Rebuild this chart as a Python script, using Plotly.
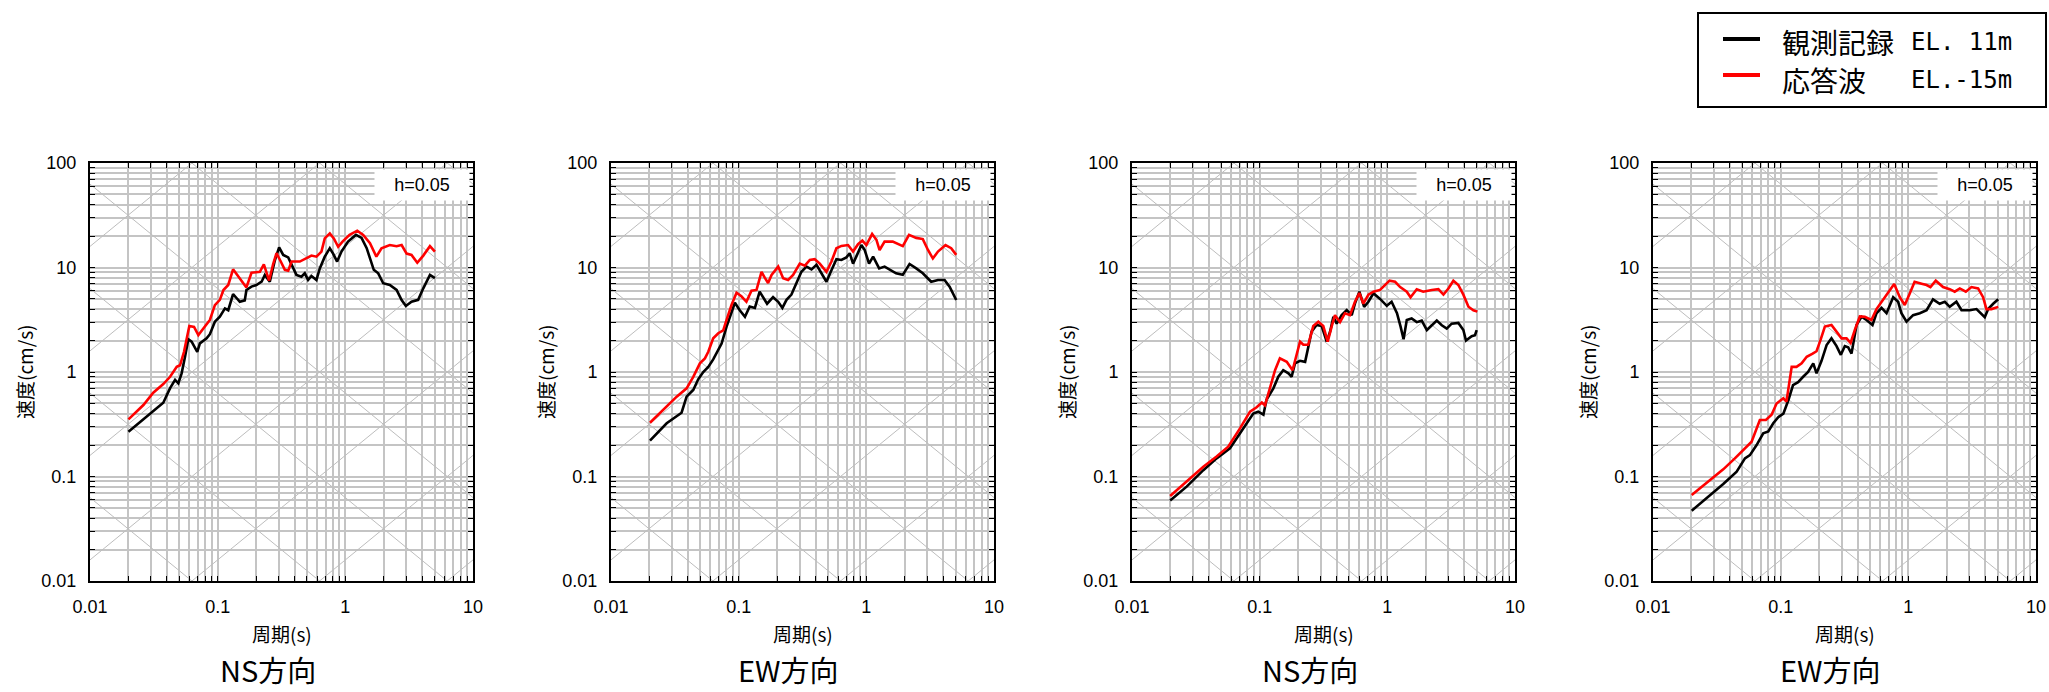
import math
import plotly.graph_objects as go

W, H = 2049, 692

# ---------------- data ----------------
panel_titles = ["NS方向", "EW方向", "NS方向", "EW方向"]
legend_names = ["観測記録", "応答波"]
legend_levels = ["EL. 11m", "EL.-15m"]
damping_label = "h=0.05"
x_title = "周期(s)"
y_title = "速度(cm/s)"

x_decades = [0.01, 0.1, 1, 10]
x_decade_labels = ["0.01", "0.1", "1", "10"]
y_decades = [0.01, 0.1, 1, 10, 100]
y_decade_labels = ["0.01", "0.1", "1", "10", "100"]

# tripartite guide levels
disp_levels_cm = [1e-4, 1e-3, 1e-2, 0.1, 1, 10, 100]
acc_levels_gal = [0.01, 0.1, 1, 10, 100, 1000, 10000]

p1_obs_T = [0.02, 0.0375, 0.0424, 0.0464, 0.0492, 0.0522, 0.0555, 0.0589, 0.0625, 0.0692, 0.0726, 0.0819, 0.0869, 0.0951, 0.104, 0.114, 0.121, 0.132, 0.141, 0.149, 0.163, 0.168, 0.184, 0.201, 0.221, 0.234, 0.256, 0.281, 0.303, 0.326, 0.357, 0.379, 0.414, 0.453, 0.481, 0.511, 0.543, 0.594, 0.631, 0.690, 0.756, 0.802, 0.862, 0.933, 1.05, 1.21, 1.34, 1.47, 1.56, 1.67, 1.81, 1.98, 2.23, 2.52, 2.76, 2.98, 3.30, 3.72, 4.08, 4.60, 5.03]
p1_obs_V = [0.268, 0.508, 0.70, 0.84, 0.78, 0.97, 1.40, 2.06, 1.95, 1.56, 1.88, 2.10, 2.3, 3.03, 3.38, 4.06, 3.9, 5.57, 5.08, 4.71, 4.85, 6.09, 6.56, 6.8, 7.31, 8.47, 7.3, 11.8, 15.6, 13.2, 12.5, 10.6, 8.5, 8.17, 8.8, 7.6, 8.3, 7.6, 9.8, 12.7, 15.3, 13.6, 11.4, 14.2, 17.7, 20.5, 19.2, 15.3, 12.2, 9.5, 8.8, 7.07, 6.8, 6.1, 4.89, 4.28, 4.7, 4.9, 6.32, 8.5, 7.9]
p1_res_T = [0.02, 0.0262, 0.0313, 0.0375, 0.0424, 0.0478, 0.0507, 0.0545, 0.060, 0.0653, 0.0706, 0.0796, 0.0869, 0.0951, 0.104, 0.111, 0.121, 0.132, 0.142, 0.154, 0.168, 0.184, 0.214, 0.230, 0.253, 0.272, 0.289, 0.310, 0.336, 0.357, 0.379, 0.440, 0.496, 0.543, 0.594, 0.650, 0.690, 0.756, 0.812, 0.879, 0.951, 1.08, 1.24, 1.38, 1.56, 1.75, 1.92, 2.23, 2.52, 2.76, 3.02, 3.30, 3.66, 4.08, 4.60, 5.03]
p1_res_V = [0.352, 0.483, 0.634, 0.767, 0.90, 1.12, 1.16, 1.56, 2.75, 2.7, 2.26, 2.75, 3.15, 4.37, 4.9, 6.09, 6.8, 9.6, 8.5, 7.6, 6.45, 8.9, 9.1, 10.7, 7.5, 10.8, 13.7, 11.6, 9.5, 9.3, 11.4, 11.4, 12.2, 13.0, 12.7, 14.2, 19.0, 21.2, 19.0, 15.8, 17.7, 20.5, 22.5, 20.5, 17.1, 12.7, 15.3, 16.4, 16.0, 16.4, 13.6, 13.2, 11.1, 13.0, 16.0, 14.2]

p2_obs_T = [0.0202, 0.0273, 0.0357, 0.0391, 0.0441, 0.0482, 0.0528, 0.0578, 0.0632, 0.0692, 0.0735, 0.0804, 0.0879, 0.0934, 0.102, 0.112, 0.122, 0.134, 0.146, 0.155, 0.167, 0.186, 0.204, 0.220, 0.237, 0.259, 0.284, 0.310, 0.340, 0.372, 0.407, 0.445, 0.487, 0.533, 0.583, 0.638, 0.698, 0.741, 0.787, 0.846, 0.915, 0.971, 1.05, 1.13, 1.26, 1.39, 1.52, 1.71, 1.93, 2.18, 2.46, 2.77, 3.22, 3.64, 4.10, 4.49, 5.06]
p2_obs_V = [0.220, 0.323, 0.408, 0.581, 0.673, 0.851, 1.0, 1.12, 1.32, 1.65, 1.87, 2.72, 3.78, 4.60, 3.9, 3.38, 4.24, 4.1, 5.87, 5.2, 4.5, 5.2, 4.7, 4.1, 4.9, 5.5, 7.07, 9.1, 10.2, 9.6, 10.6, 8.8, 7.31, 9.4, 12.0, 11.8, 12.5, 13.7, 10.9, 13.2, 16.4, 14.7, 10.9, 12.7, 9.8, 10.2, 9.6, 8.8, 8.5, 10.8, 9.8, 8.8, 7.3, 7.6, 7.6, 6.55, 4.89]
p2_res_T = [0.0202, 0.0273, 0.0327, 0.0391, 0.0441, 0.0497, 0.0544, 0.0578, 0.0632, 0.0692, 0.0757, 0.0804, 0.0879, 0.0962, 0.105, 0.115, 0.126, 0.138, 0.151, 0.160, 0.170, 0.181, 0.204, 0.223, 0.244, 0.267, 0.301, 0.330, 0.361, 0.394, 0.432, 0.487, 0.533, 0.583, 0.638, 0.719, 0.787, 0.861, 0.931, 1.0, 1.11, 1.20, 1.27, 1.39, 1.61, 1.93, 2.16, 2.46, 2.77, 3.04, 3.32, 3.64, 4.17, 4.62, 5.06]
p2_res_V = [0.327, 0.466, 0.581, 0.698, 0.90, 1.21, 1.35, 1.56, 2.10, 2.35, 2.5, 3.15, 4.37, 5.74, 5.3, 4.7, 6.0, 6.1, 9.1, 8.0, 7.1, 8.5, 10.2, 7.9, 7.6, 8.5, 10.9, 10.4, 11.8, 12.0, 10.9, 9.1, 11.4, 15.3, 16.1, 16.4, 14.2, 16.7, 18.1, 16.4, 20.9, 18.4, 14.7, 17.7, 17.7, 16.0, 20.5, 19.2, 18.7, 14.7, 12.2, 14.2, 16.4, 15.3, 13.2]

p3_obs_T = [0.0199, 0.0268, 0.0362, 0.0460, 0.0585, 0.0701, 0.0815, 0.0891, 0.0975, 0.107, 0.113, 0.128, 0.140, 0.153, 0.168, 0.178, 0.189, 0.207, 0.227, 0.240, 0.255, 0.279, 0.306, 0.335, 0.356, 0.378, 0.401, 0.439, 0.481, 0.526, 0.558, 0.604, 0.658, 0.711, 0.778, 0.877, 0.99, 1.08, 1.19, 1.27, 1.34, 1.42, 1.55, 1.70, 1.86, 2.04, 2.23, 2.44, 2.67, 2.92, 3.19, 3.60, 3.94, 4.13, 4.58, 4.86, 5.01]
p3_obs_V = [0.0588, 0.080, 0.115, 0.149, 0.186, 0.259, 0.347, 0.40, 0.417, 0.39, 0.54, 0.698, 0.90, 1.04, 0.97, 0.90, 1.21, 1.28, 1.25, 1.75, 2.43, 2.82, 2.75, 1.95, 2.43, 3.38, 2.9, 3.5, 3.92, 3.5, 4.54, 5.87, 4.2, 4.7, 5.67, 5.0, 4.3, 4.7, 3.65, 2.72, 2.06, 3.15, 3.25, 3.0, 3.1, 2.52, 2.8, 3.1, 2.8, 2.6, 2.9, 2.95, 2.52, 2.0, 2.2, 2.25, 2.52]
p3_res_T = [0.0199, 0.0268, 0.0362, 0.046, 0.0567, 0.0701, 0.084, 0.0947, 0.104, 0.110, 0.117, 0.132, 0.144, 0.163, 0.181, 0.195, 0.207, 0.220, 0.240, 0.263, 0.288, 0.315, 0.341, 0.367, 0.389, 0.426, 0.466, 0.510, 0.558, 0.604, 0.649, 0.711, 0.778, 0.877, 0.96, 1.04, 1.15, 1.26, 1.42, 1.52, 1.70, 1.91, 2.23, 2.51, 2.75, 3.01, 3.29, 3.60, 3.94, 4.32, 4.72, 5.07]
p3_res_V = [0.065, 0.089, 0.124, 0.155, 0.193, 0.289, 0.417, 0.46, 0.51, 0.48, 0.625, 1.04, 1.35, 1.25, 1.04, 1.51, 1.95, 1.82, 1.82, 2.75, 3.03, 2.75, 1.95, 2.75, 3.5, 3.0, 3.65, 3.5, 4.7, 5.7, 4.5, 5.5, 5.87, 6.1, 6.8, 7.48, 7.3, 6.5, 5.87, 5.2, 6.2, 5.87, 6.1, 6.2, 5.5, 6.3, 7.48, 6.8, 5.5, 4.21, 3.9, 3.78]

p4_obs_T = [0.0201, 0.0263, 0.0355, 0.0452, 0.0525, 0.0574, 0.0648, 0.0730, 0.080, 0.0875, 0.0957, 0.105, 0.115, 0.125, 0.137, 0.150, 0.164, 0.180, 0.191, 0.209, 0.229, 0.250, 0.274, 0.296, 0.318, 0.338, 0.359, 0.393, 0.430, 0.470, 0.524, 0.563, 0.617, 0.675, 0.761, 0.832, 0.883, 0.968, 1.09, 1.23, 1.39, 1.56, 1.76, 1.93, 2.11, 2.38, 2.61, 3.03, 3.42, 3.97, 4.22, 4.62, 5.06]
p4_obs_V = [0.0471, 0.0618, 0.0847, 0.111, 0.149, 0.16, 0.20, 0.259, 0.27, 0.323, 0.37, 0.40, 0.54, 0.75, 0.8, 0.90, 1.0, 1.21, 0.97, 1.28, 1.81, 2.1, 1.77, 1.46, 1.77, 1.72, 1.5, 2.82, 3.38, 3.15, 2.82, 3.65, 4.1, 3.65, 5.19, 4.7, 3.65, 3.03, 3.5, 3.65, 3.9, 4.96, 4.5, 4.7, 4.2, 4.7, 3.9, 3.9, 4.0, 3.34, 4.0, 4.5, 4.96]
p4_res_T = [0.0201, 0.0263, 0.0355, 0.0438, 0.0509, 0.0592, 0.0687, 0.0766, 0.0849, 0.0929, 0.105, 0.111, 0.122, 0.133, 0.146, 0.160, 0.178, 0.191, 0.205, 0.222, 0.250, 0.274, 0.300, 0.328, 0.353, 0.381, 0.417, 0.456, 0.514, 0.563, 0.635, 0.695, 0.775, 0.857, 0.938, 1.03, 1.12, 1.27, 1.39, 1.49, 1.64, 1.87, 2.11, 2.31, 2.53, 2.82, 3.12, 3.52, 3.85, 4.09, 4.48, 5.06]
p4_res_V = [0.0665, 0.086, 0.117, 0.149, 0.18, 0.215, 0.347, 0.347, 0.39, 0.50, 0.56, 0.52, 1.12, 1.12, 1.21, 1.40, 1.5, 1.58, 2.02, 2.72, 2.82, 2.43, 2.1, 2.1, 1.9, 2.52, 3.4, 3.38, 3.15, 4.0, 4.89, 5.7, 6.95, 5.2, 4.37, 5.7, 7.31, 7.0, 6.8, 6.5, 7.48, 6.5, 6.2, 5.87, 6.3, 5.87, 6.5, 6.3, 5.2, 4.0, 4.0, 4.2]

panels = [
    (p1_obs_T, p1_obs_V, p1_res_T, p1_res_V),
    (p2_obs_T, p2_obs_V, p2_res_T, p2_res_V),
    (p3_obs_T, p3_obs_V, p3_res_T, p3_res_V),
    (p4_obs_T, p4_obs_V, p4_res_T, p4_res_V),
]

# ---------------- styling / layout ----------------
OBS_COLOR = "#000000"
RES_COLOR = "#ff0000"
GRID = "#c4c4c4"
DIAG = "#bdbdbd"
NUM_FONT = "Liberation Sans, Arial, sans-serif"
JP_FONT = "Noto Sans CJK JP, sans-serif"

PLOT_L0, PLOT_STEP, PLOT_W = 90, 521, 383
PLOT_TOP, PLOT_BOT = 163, 581


def px(x):
    return x / W


def py(y):
    return 1 - y / H


def minor_ticks(decades, labels):
    vals, texts = [], []
    for i, d in enumerate(decades):
        if i == len(decades) - 1:
            vals.append(d)
            texts.append(labels[i])
            break
        for m in range(1, 10):
            vals.append(d * m)
            texts.append(labels[i] if m == 1 else "")
    return vals, texts


xt_vals, xt_text = minor_ticks(x_decades, x_decade_labels)
yt_vals, yt_text = minor_ticks(y_decades, y_decade_labels)

fig = go.Figure()
annotations = []
shapes = []
T_guide = [1e-3, 1e2]

for i, (oT, oV, rT, rV) in enumerate(panels):
    n = "" if i == 0 else str(i + 1)
    xa, ya = "x" + n, "y" + n
    # tripartite guide lines
    for D in disp_levels_cm:
        fig.add_trace(go.Scatter(x=T_guide, y=[2 * math.pi * D / t for t in T_guide],
                                 mode="lines", line=dict(color=DIAG, width=1),
                                 hoverinfo="skip", showlegend=False, xaxis=xa, yaxis=ya))
    for A in acc_levels_gal:
        fig.add_trace(go.Scatter(x=T_guide, y=[A * t / (2 * math.pi) for t in T_guide],
                                 mode="lines", line=dict(color=DIAG, width=1),
                                 hoverinfo="skip", showlegend=False, xaxis=xa, yaxis=ya))
    fig.add_trace(go.Scatter(x=oT, y=oV, mode="lines", name=legend_names[0],
                             line=dict(color=OBS_COLOR, width=2.6), showlegend=False,
                             xaxis=xa, yaxis=ya))
    fig.add_trace(go.Scatter(x=rT, y=rV, mode="lines", name=legend_names[1],
                             line=dict(color=RES_COLOR, width=2.6), showlegend=False,
                             xaxis=xa, yaxis=ya))

    left = PLOT_L0 + PLOT_STEP * i
    right = left + PLOT_W
    common = dict(showline=True, linecolor="black", linewidth=2, mirror="ticks",
                  ticks="inside", ticklen=5, tickwidth=1, tickcolor="black",
                  showgrid=True, gridcolor=GRID, gridwidth=1.5, zeroline=False,
                  automargin=False, tickmode="array",
                  tickfont=dict(family=NUM_FONT, size=18, color="black"))
    fig.layout["xaxis" + n] = dict(type="log", range=[-2, 1], domain=[px(left), px(right)],
                                   anchor=ya, tickvals=xt_vals, ticktext=xt_text,
                                   ticklabelstandoff=8, **common)
    fig.layout["yaxis" + n] = dict(type="log", range=[-2, 2], domain=[py(PLOT_BOT), py(PLOT_TOP)],
                                   anchor=xa, tickvals=yt_vals, ticktext=yt_text,
                                   ticklabelstandoff=8, **common)

    cx = (left + right) / 2
    # damping box
    annotations.append(dict(xref="paper", yref="paper", x=px(right - 3), y=py(169),
                            xanchor="right", yanchor="top", text=damping_label, showarrow=False,
                            bgcolor="white", width=92, height=28, borderpad=1, align="center",
                            font=dict(family=NUM_FONT, size=18, color="black")))
    # axis titles
    annotations.append(dict(xref="paper", yref="paper", x=px(left - 66), y=py((PLOT_TOP + PLOT_BOT) / 2),
                            xanchor="center", yanchor="middle", text=y_title, textangle=-90,
                            showarrow=False, font=dict(family=JP_FONT, size=19, color="black")))
    annotations.append(dict(xref="paper", yref="paper", x=px(cx), y=py(633),
                            xanchor="center", yanchor="middle", text=x_title,
                            showarrow=False, font=dict(family=JP_FONT, size=19, color="black")))
    annotations.append(dict(xref="paper", yref="paper", x=px(cx - 14), y=py(692),
                            xanchor="center", yanchor="bottom", text=panel_titles[i],
                            showarrow=False, font=dict(family=JP_FONT, size=29, color="black")))

# custom legend box
shapes.append(dict(type="rect", xref="paper", yref="paper", x0=px(1698), x1=px(2046),
                   y0=py(107), y1=py(13), line=dict(color="black", width=2), fillcolor="white"))
for k, (col, yy) in enumerate([(OBS_COLOR, 39), (RES_COLOR, 75)]):
    shapes.append(dict(type="line", xref="paper", yref="paper", x0=px(1723), x1=px(1760),
                       y0=py(yy), y1=py(yy), line=dict(color=col, width=4)))
    ty = 42 if k == 0 else 80
    annotations.append(dict(xref="paper", yref="paper", x=px(1780), y=py(ty), xanchor="left",
                            yanchor="middle", text=legend_names[k], showarrow=False,
                            font=dict(family=JP_FONT, size=28, color="black")))
    annotations.append(dict(xref="paper", yref="paper", x=px(1909), y=py(ty), xanchor="left",
                            yanchor="middle", text=legend_levels[k], showarrow=False,
                            font=dict(family="DejaVu Sans Mono, monospace", size=24, color="black")))

fig.update_layout(width=W, height=H, margin=dict(l=0, r=0, t=0, b=0),
                  paper_bgcolor="white", plot_bgcolor="white",
                  annotations=annotations, shapes=shapes, showlegend=False)

fig.write_html("out.html", config={"displayModeBar": False},
               post_script="document.body.style.margin='0';document.body.style.padding='0';"
                           "document.body.style.overflow='hidden';")
